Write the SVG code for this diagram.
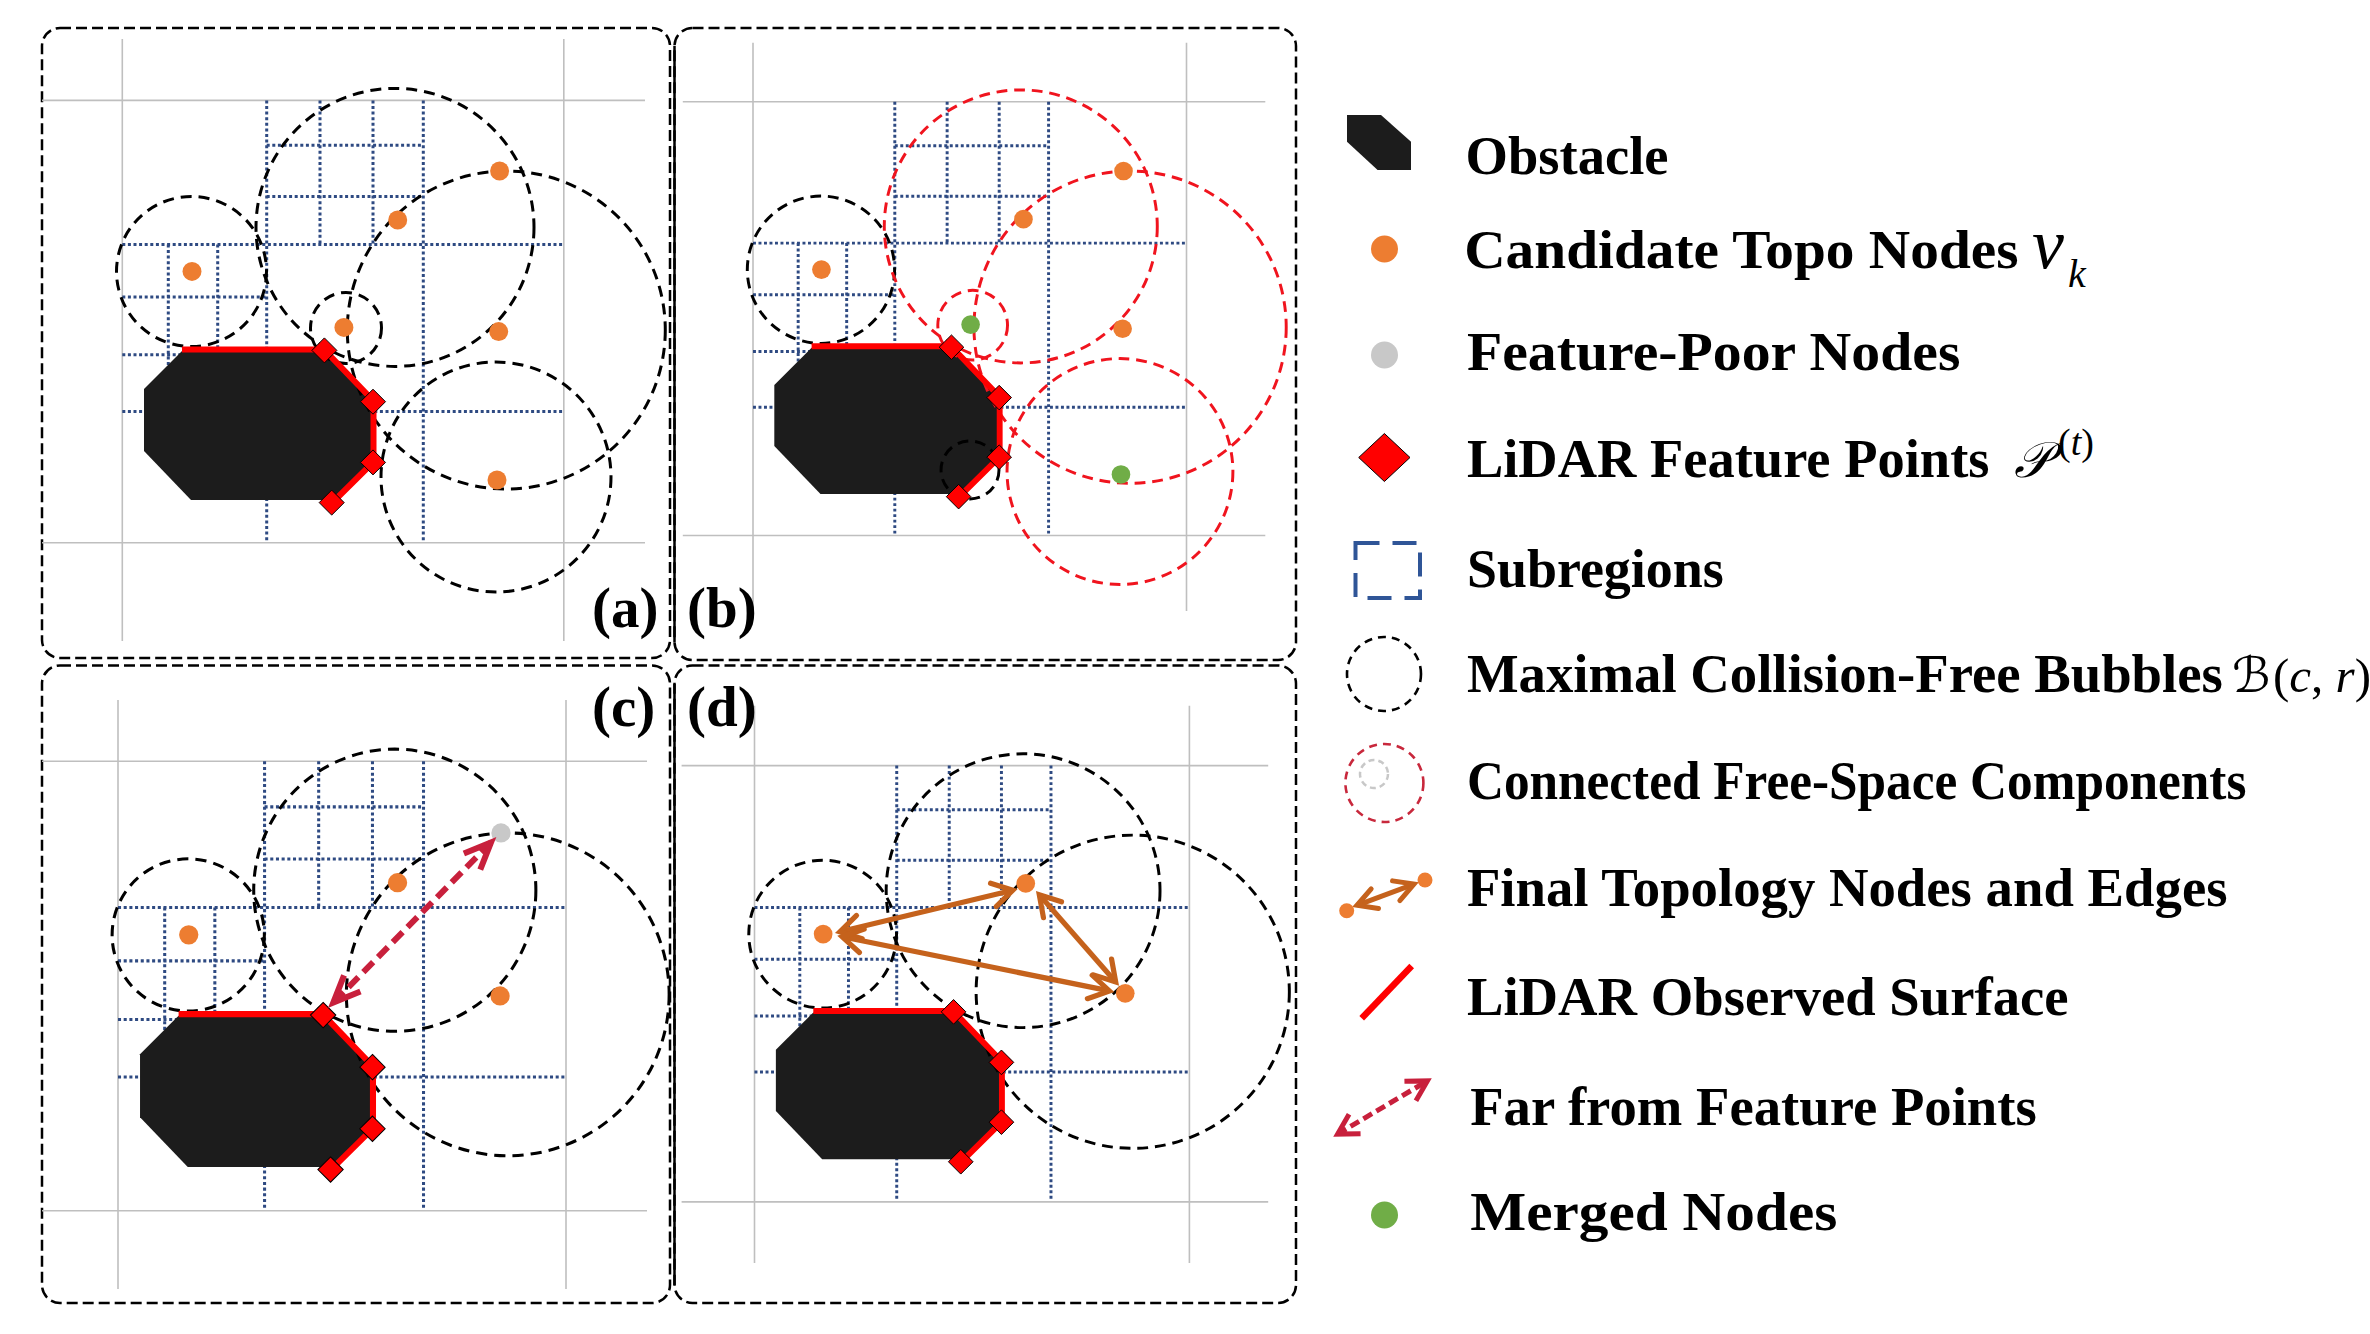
<svg xmlns="http://www.w3.org/2000/svg" xmlns:xlink="http://www.w3.org/1999/xlink" width="2370" height="1334" viewBox="0 0 2370 1334">
<style>
.border{fill:none;stroke:#000;stroke-width:2.5;stroke-dasharray:11 5}
.solid{fill:none;stroke:#000;stroke-width:2.5}
.gray{fill:none;stroke:#BFBFBF;stroke-width:1.6}
.sub{fill:none;stroke:#2E4A82;stroke-width:3;stroke-dasharray:3 2.6}
.obs{fill:#1C1C1C}
.surf{fill:none;stroke:#FF0000;stroke-width:6;stroke-linejoin:miter}
.fp{fill:#FF0000;stroke:#000;stroke-width:1}
.bub{fill:none;stroke:#000;stroke-width:3;stroke-dasharray:11 7}
.comp{fill:none;stroke:#F0141E;stroke-width:3;stroke-dasharray:11 7}
.cand{fill:#ED7D31}
.poor{fill:#C8C8C8}
.merged{fill:#70AD47}
.lbl{font-family:"Liberation Serif","Times New Roman",serif;font-weight:bold;font-size:57px;fill:#000}
.leg{font-family:"Liberation Serif","Times New Roman",serif;font-weight:bold;font-size:55px;fill:#000}
.math{font-family:"Liberation Serif","Times New Roman",serif;font-weight:normal;fill:#000}
.cal{font-family:"DejaVu Serif","DejaVu Sans",serif;font-weight:normal;fill:#000}
.far{fill:none;stroke:#C8203C}
.edge{fill:none;stroke:#C5621C}
</style>
<defs>
<marker id="mC" markerUnits="userSpaceOnUse" orient="auto-start-reverse" overflow="visible" markerWidth="1" markerHeight="1" refX="0" refY="0"><path d="M-27,-11.5 L0,0 L-27,11.5" fill="none" stroke="#C8203C" stroke-width="6"/></marker>
<marker id="mD" markerUnits="userSpaceOnUse" orient="auto-start-reverse" overflow="visible" markerWidth="1" markerHeight="1" refX="0" refY="0"><path d="M-20,-12 L0,0 L-20,12" fill="none" stroke="#C5621C" stroke-width="5.2" stroke-linecap="round"/></marker>
<marker id="mL" markerUnits="userSpaceOnUse" orient="auto-start-reverse" overflow="visible" markerWidth="1" markerHeight="1" refX="0" refY="0"><path d="M-20,-11.3 L0,0 L-20,11.3" fill="none" stroke="#C8203C" stroke-width="5"/></marker>
<marker id="mO" markerUnits="userSpaceOnUse" orient="auto-start-reverse" overflow="visible" markerWidth="1" markerHeight="1" refX="0" refY="0"><path d="M-19,-10.5 L0,0 L-19,10.5" fill="none" stroke="#C5621C" stroke-width="5" stroke-linecap="round"/></marker>
<path id="dia" class="fp" d="M0,-12.5 L12.5,0 L0,12.5 L-12.5,0Z"/>
<path id="grid" class="sub" d="M266.7,100.4V542.7 M423.3,100.4V542.7 M320,100.4V244.4 M373,100.4V244.4 M168.3,244.4V411.5 M217.7,244.4V411.5 M266.7,145.3H423.3 M266.7,196.6H423.3 M122.3,244.4H563.8 M122.3,297H266.7 M122.3,354.7H266.7 M122.3,411.5H563.8"/>
<polygon id="obst" class="obs" points="144,389 182,351 323,351 372,402 372,461.5 332,500 191,500 144,451"/>
<g id="lidar">
<path class="surf" d="M182,349.5 L324,349.5 L373.5,401 L373.5,462 L333,502"/>
<use xlink:href="#dia" x="324.4" y="350.4"/>
<use xlink:href="#dia" x="373" y="401.7"/>
<use xlink:href="#dia" x="373" y="462.4"/>
<use xlink:href="#dia" x="331.7" y="502.6"/>
</g>
</defs>
<rect width="2370" height="1334" fill="#fff"/>

<g id="panel-a">
<rect class="border" x="42" y="28" width="628" height="630" rx="18"/>
<path class="gray" d="M122.3,39V641 M563.8,39V641 M42,100.4H645 M42,542.7H645"/>
<use xlink:href="#grid"/>
<use xlink:href="#obst"/>
<circle class="bub" cx="191.5" cy="271.5" r="75"/>
<circle class="bub" cx="395" cy="227.4" r="139"/>
<circle class="bub" cx="346" cy="328" r="35.5"/>
<circle class="bub" cx="506.3" cy="330" r="159"/>
<circle class="bub" cx="496" cy="477" r="115"/>
<use xlink:href="#lidar"/>
<circle class="cand" cx="192" cy="271.4" r="9.5"/>
<circle class="cand" cx="397.7" cy="220" r="9.5"/>
<circle class="cand" cx="499.6" cy="171" r="9.5"/>
<circle class="cand" cx="343.9" cy="327.4" r="9.5"/>
<circle class="cand" cx="498.7" cy="331.6" r="9.5"/>
<circle class="cand" cx="497" cy="480" r="9.5"/>
<text class="lbl" x="592" y="627">(a)</text>
</g>

<g id="panel-b">
<rect class="border" x="674.5" y="28" width="621.5" height="632" rx="18"/>
<path class="solid" d="M674.5,46V642"/>
<path class="gray" d="M753,42.7V611 M1186.5,42.7V611 M682.8,101.7H1265.3 M682.8,535.5H1265.3"/>
<g transform="matrix(0.982 0 0 0.982 632.9 3.11)">
<use xlink:href="#grid"/>
<use xlink:href="#obst"/>
<circle class="bub" cx="191.5" cy="271.5" r="75"/>
<circle class="bub" cx="343.3" cy="475.4" r="29.5"/>
<circle class="comp" cx="395" cy="227.4" r="139"/>
<circle class="comp" cx="346" cy="328" r="35.5"/>
<circle class="comp" cx="506.3" cy="330" r="159"/>
<circle class="comp" cx="496" cy="477" r="115"/>
<use xlink:href="#lidar"/>
<circle class="cand" cx="192" cy="271.4" r="9.5"/>
<circle class="cand" cx="397.7" cy="220" r="9.5"/>
<circle class="cand" cx="499.6" cy="171" r="9.5"/>
<circle class="merged" cx="343.9" cy="327.4" r="9.5"/>
<circle class="cand" cx="498.7" cy="331.6" r="9.5"/>
<circle class="merged" cx="497" cy="480" r="9.5"/>
</g>
<text class="lbl" x="687" y="627">(b)</text>
</g>

<g id="panel-c">
<rect class="border" x="42" y="665.5" width="628" height="637.5" rx="18"/>
<path class="gray" d="M118,700V1289 M566,700V1289 M42,761.3H647 M42,1210.7H647"/>
<g transform="matrix(1.015 0 0 1.015 -6.13 659.4)">
<use xlink:href="#grid"/>
<use xlink:href="#obst"/>
<circle class="bub" cx="191.5" cy="271.5" r="75"/>
<circle class="bub" cx="395" cy="227.4" r="139"/>
<circle class="bub" cx="506.3" cy="330" r="159"/>
<use xlink:href="#lidar"/>
<circle class="cand" cx="192" cy="271.4" r="9.5"/>
<circle class="cand" cx="397.7" cy="220" r="9.5"/>
<circle class="poor" cx="499.6" cy="171" r="9.5"/>
<circle class="cand" cx="498.7" cy="331.6" r="9.5"/>
</g>
<text class="lbl" x="592" y="726">(c)</text>
</g>

<g id="panel-d">
<rect class="border" x="674.5" y="665.5" width="621.5" height="637.5" rx="18"/>
<path class="solid" d="M674.5,684V1285"/>
<path class="gray" d="M754.5,705.8V1263 M1189.4,705.8V1263 M681.6,765.6H1268.2 M681.6,1201.9H1268.2"/>
<g transform="matrix(0.985 0 0 0.985 634.03 666.7)">
<use xlink:href="#grid"/>
<use xlink:href="#obst"/>
<circle class="bub" cx="191.5" cy="271.5" r="75"/>
<circle class="bub" cx="395" cy="227.4" r="139"/>
<circle class="bub" cx="506.3" cy="330" r="159"/>
<use xlink:href="#lidar"/>
<circle class="cand" cx="192" cy="271.4" r="9.5"/>
<circle class="cand" cx="397.7" cy="220" r="9.5"/>
<circle class="cand" cx="498.7" cy="331.6" r="9.5"/>
</g>
<text class="lbl" x="687" y="726">(d)</text>
</g>

<g id="connectors">
<line class="far" stroke-width="6" stroke-dasharray="14 7" x1="491" y1="842.4" x2="333.3" y2="1002.6" marker-start="url(#mC)" marker-end="url(#mC)"/>
<line class="edge" stroke-width="5.2" x1="839.9" y1="931.8" x2="1012.8" y2="890.2" marker-start="url(#mD)" marker-end="url(#mD)"/>
<line class="edge" stroke-width="5.2" x1="1039.3" y1="894.7" x2="1115.7" y2="982" marker-start="url(#mD)" marker-end="url(#mD)"/>
<line class="edge" stroke-width="5.2" x1="842.2" y1="936.8" x2="1109.4" y2="990.9" marker-start="url(#mD)" marker-end="url(#mD)"/>
</g>

<g id="legend">
<g id="leg-obstacle">
<polygon class="obs" points="1347,115 1381,115 1411,141.7 1411,170 1377.6,170 1347,141.7"/>
<text class="leg" x="1465.5" y="174" textLength="203" lengthAdjust="spacingAndGlyphs">Obstacle</text>
</g>
<g id="leg-candidate">
<circle class="cand" cx="1384.5" cy="249" r="13.5"/>
<text class="leg" x="1464.2" y="268" textLength="554.4" lengthAdjust="spacingAndGlyphs">Candidate Topo Nodes</text>
<text class="math" x="2032" y="268" font-size="72" font-style="italic">v</text>
<text class="math" x="2068" y="287" font-size="40" font-style="italic">k</text>
</g>
<g id="leg-poor">
<circle class="poor" cx="1384.5" cy="355" r="13.5"/>
<text class="leg" x="1466.9" y="370" textLength="493.5" lengthAdjust="spacingAndGlyphs">Feature-Poor Nodes</text>
</g>
<g id="leg-feature">
<path class="fp" d="M1384.4,433.5 L1410,457.5 L1384.4,481.5 L1358.7,457.5Z"/>
<text class="leg" x="1466.9" y="476.5" font-size="54.5" textLength="522.6" lengthAdjust="spacingAndGlyphs">LiDAR Feature Points</text>
<text class="cal" x="2014" y="476.5" font-size="50" font-style="italic">𝒫</text>
<text class="math" x="2058" y="455" font-size="38">(<tspan font-style="italic">t</tspan>)</text>
</g>
<g id="leg-subregions">
<rect x="1355.5" y="543" width="64.5" height="55" fill="none" stroke="#2F5597" stroke-width="4" stroke-dasharray="24 13"/>
<text class="leg" x="1466.9" y="587" font-size="54" textLength="256.9" lengthAdjust="spacingAndGlyphs">Subregions</text>
</g>
<g id="leg-bubbles">
<circle cx="1384" cy="674" r="37" fill="none" stroke="#000" stroke-width="2.6" stroke-dasharray="8 6"/>
<text class="leg" x="1466.9" y="691.5" textLength="755.9" lengthAdjust="spacingAndGlyphs">Maximal Collision-Free Bubbles</text>
<text class="cal" x="2232" y="692" font-size="49" font-style="italic">ℬ</text>
<text class="math" x="2273" y="692" font-size="49">(<tspan font-style="italic">c</tspan>, <tspan font-style="italic">r</tspan>)</text>
</g>
<g id="leg-components">
<circle cx="1384.4" cy="783" r="39" fill="none" stroke="#C8283C" stroke-width="2.6" stroke-dasharray="8 6"/>
<circle cx="1374" cy="774" r="14" fill="none" stroke="#C8C8C8" stroke-width="2.5" stroke-dasharray="6 4"/>
<text class="leg" x="1466.9" y="799" font-size="53" textLength="779.5" lengthAdjust="spacingAndGlyphs">Connected Free-Space Components</text>
</g>
<g id="leg-topology">
<line class="edge" stroke-width="5" x1="1357" y1="905.3" x2="1414" y2="884.1" marker-start="url(#mO)" marker-end="url(#mO)"/>
<circle class="cand" cx="1346.7" cy="910.7" r="7.5"/>
<circle class="cand" cx="1425" cy="880" r="7.5"/>
<text class="leg" x="1466.9" y="906" font-size="54.6" textLength="760.6" lengthAdjust="spacingAndGlyphs">Final Topology Nodes and Edges</text>
</g>
<g id="leg-surface">
<line x1="1361.7" y1="1018.3" x2="1411.7" y2="966" stroke="#FF0000" stroke-width="6.5"/>
<text class="leg" x="1466.9" y="1015" textLength="601.7" lengthAdjust="spacingAndGlyphs">LiDAR Observed Surface</text>
</g>
<g id="leg-far">
<line class="far" stroke-width="5" stroke-dasharray="10 5" x1="1337.6" y1="1134.1" x2="1427.4" y2="1080.9" marker-start="url(#mL)" marker-end="url(#mL)"/>
<text class="leg" x="1470.2" y="1124.5" font-size="54.7" textLength="566.6" lengthAdjust="spacingAndGlyphs">Far from Feature Points</text>
</g>
<g id="leg-merged">
<circle class="merged" cx="1384.5" cy="1215" r="13.5"/>
<text class="leg" x="1470.2" y="1229.5" font-size="58" textLength="367.2" lengthAdjust="spacingAndGlyphs">Merged Nodes</text>
</g>
</g>
</svg>
